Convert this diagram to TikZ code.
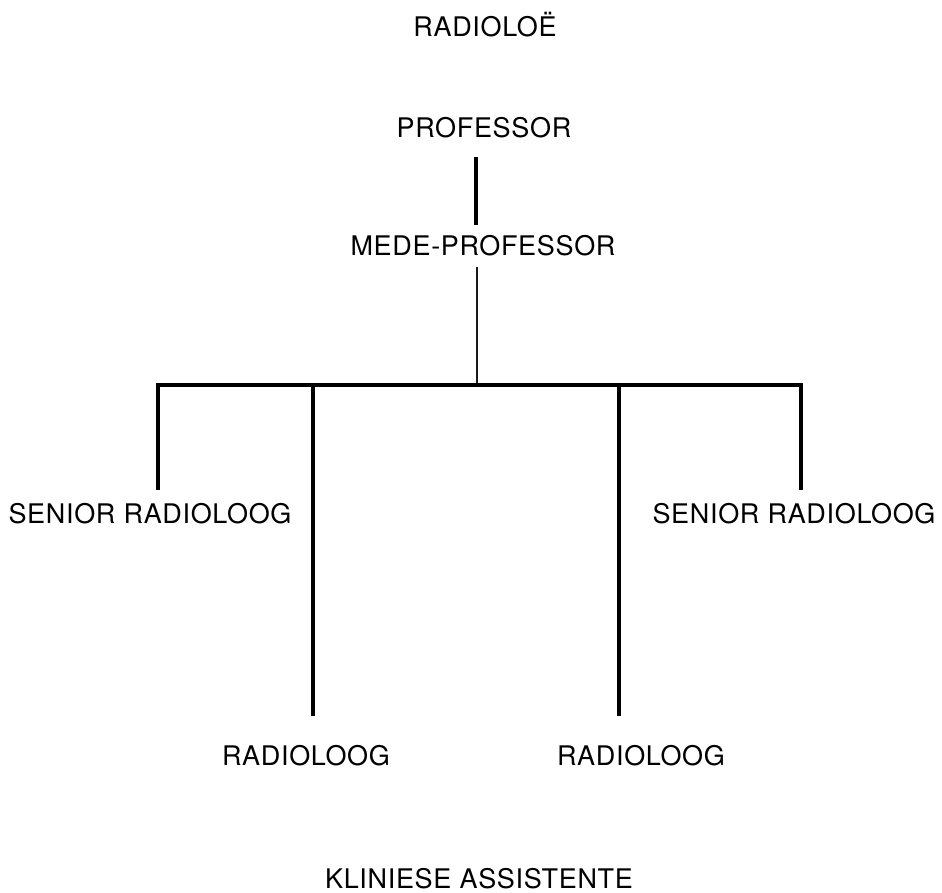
\documentclass[tikz,border=0pt]{standalone}
\usepackage{fontspec}
\setmainfont{TeX Gyre Heros}[LetterSpace=2.5]
\begin{document}
\begin{tikzpicture}[x=1pt,y=-1pt,
  lbl/.style={anchor=base,inner sep=0pt,font=\fontsize{27}{30}\selectfont,text=black},
  thick line/.style={line width=3.1pt,draw=black},
  thin line/.style={line width=1.6pt,draw=black!90}]
\useasboundingbox (0,0) rectangle (942,892);
% labels
\node[lbl] (title) at (485,36) {RADIOLOË};
\node[lbl] (prof) at (484,137) {PROFESSOR};
\node[lbl] (mede) at (483,255) {MEDE-PROFESSOR};
\node[lbl] (srl) at (150,523) {SENIOR RADIOLOOG};
\node[lbl] (srr) at (794,523) {SENIOR RADIOLOOG};
\node[lbl] (rl) at (306,765) {RADIOLOOG};
\node[lbl] (rr) at (641,765) {RADIOLOOG};
\node[lbl] (ka) at (479,888) {KLINIESE ASSISTENTE};
% connector points
\coordinate (p1) at (476,157);
\coordinate (p2) at (476,225);
\coordinate (m1) at (477,267);
\coordinate (m2) at (477,385);
\coordinate (bl) at (158,385);
\coordinate (br) at (801,385);
\coordinate (slend) at (158,490);
\coordinate (srend) at (801,490);
\coordinate (il) at (313,385);
\coordinate (ir) at (619,385);
\coordinate (ilend) at (313,716);
\coordinate (irend) at (619,716);
% connectors
\draw[thick line] (p1) -- (p2);
\draw[thin line] (m1) -- (m2);
\draw[thick line] (slend) -- (bl) -- (br) -- (srend);
\draw[thick line] (il) -- (ilend);
\draw[thick line] (ir) -- (irend);
\end{tikzpicture}
\end{document}
